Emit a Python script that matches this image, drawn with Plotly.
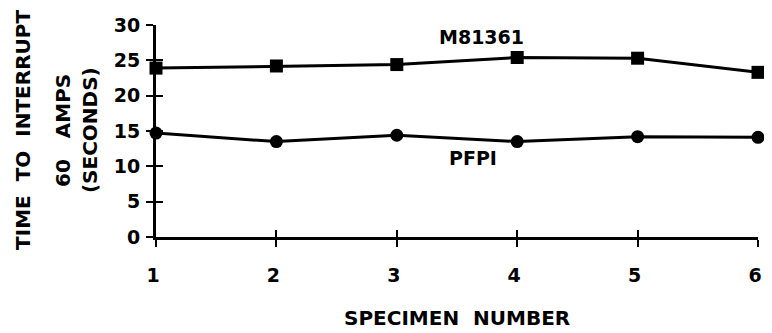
import plotly.graph_objects as go

specimen = [1, 2, 3, 4, 5, 6]
m81361 = [23.9, 24.2, 24.4, 25.4, 25.3, 23.3]
pfpi = [14.7, 13.5, 14.4, 13.5, 14.2, 14.1]
y_ticks = [0, 5, 10, 15, 20, 25, 30]
y_title_lines = ["TIME\u00a0\u00a0TO\u00a0\u00a0INTERRUPT", "60\u00a0\u00a0\u00a0AMPS", "(SECONDS)"]
x_title = "SPECIMEN\u00a0\u00a0NUMBER"

FONT = dict(family="DejaVu Sans, Liberation Sans, sans-serif", color="black", weight="bold")

fig = go.Figure()
fig.add_trace(go.Scatter(x=specimen, y=m81361, mode="lines+markers",
                         line=dict(color="black", width=3),
                         marker=dict(symbol="square", size=13, color="black"),
                         cliponaxis=False, showlegend=False))
fig.add_trace(go.Scatter(x=specimen, y=pfpi, mode="lines+markers",
                         line=dict(color="black", width=3),
                         marker=dict(symbol="circle", size=13, color="black"),
                         cliponaxis=False, showlegend=False))
fig.add_trace(go.Scatter(x=specimen, y=pfpi, xaxis="x2", yaxis="y2", mode="none",
                         showlegend=False, hoverinfo="skip"))

fig.add_annotation(x=3.70, y=28.3, text="M81361", showarrow=False,
                   font=dict(size=19, **FONT))
fig.add_annotation(x=3.63, y=11.2, text="PFPI", showarrow=False,
                   font=dict(size=19, **FONT))

# axis titles
for xp, line in zip([-0.221, -0.1545, -0.1095], y_title_lines):
    fig.add_annotation(x=xp, y=0.505, xref="paper", yref="paper", text=line,
                       textangle=-90, showarrow=False, xanchor="center", yanchor="middle",
                       font=dict(size=20, **FONT))
fig.add_annotation(x=0.5, y=-0.382, xref="paper", yref="paper", text=x_title,
                   showarrow=False, xanchor="center", yanchor="middle",
                   font=dict(size=20, **FONT))

# page body has an 8px default margin, so the figure is offset by (8, 8)
fig.update_layout(
    width=764, height=325,
    margin=dict(l=148, r=14, t=17, b=96),
    paper_bgcolor="white", plot_bgcolor="white",
    xaxis=dict(range=[1, 6], tickvals=specimen, ticks="outside", ticklen=7,
               tickwidth=2, tickcolor="black", showline=True, linewidth=3,
               linecolor="black", showgrid=False, zeroline=False, automargin=False,
               ticklabelstandoff=12, ticklabeloverflow="allow", ticklabelshift=-3,
               tickfont=dict(size=19, **FONT)),
    yaxis=dict(range=[0, 30], tickvals=y_ticks, ticks="outside", ticklen=7,
               tickwidth=2, tickcolor="black", showline=True, linewidth=3,
               linecolor="black", showgrid=False, zeroline=False, automargin=False,
               ticklabelstandoff=2, ticklabeloverflow="allow",
               tickfont=dict(size=19, **FONT)),
    xaxis2=dict(range=[1, 6], overlaying="x", tickvals=specimen, ticks="inside",
                ticklen=7, tickwidth=2, tickcolor="black", showticklabels=False,
                showgrid=False, zeroline=False, side="bottom", automargin=False),
    yaxis2=dict(range=[0, 30], overlaying="y", tickvals=y_ticks, ticks="inside",
                ticklen=7, tickwidth=2, tickcolor="black", showticklabels=False,
                showgrid=False, zeroline=False, side="left", automargin=False),
)

fig.write_html("out.html")
